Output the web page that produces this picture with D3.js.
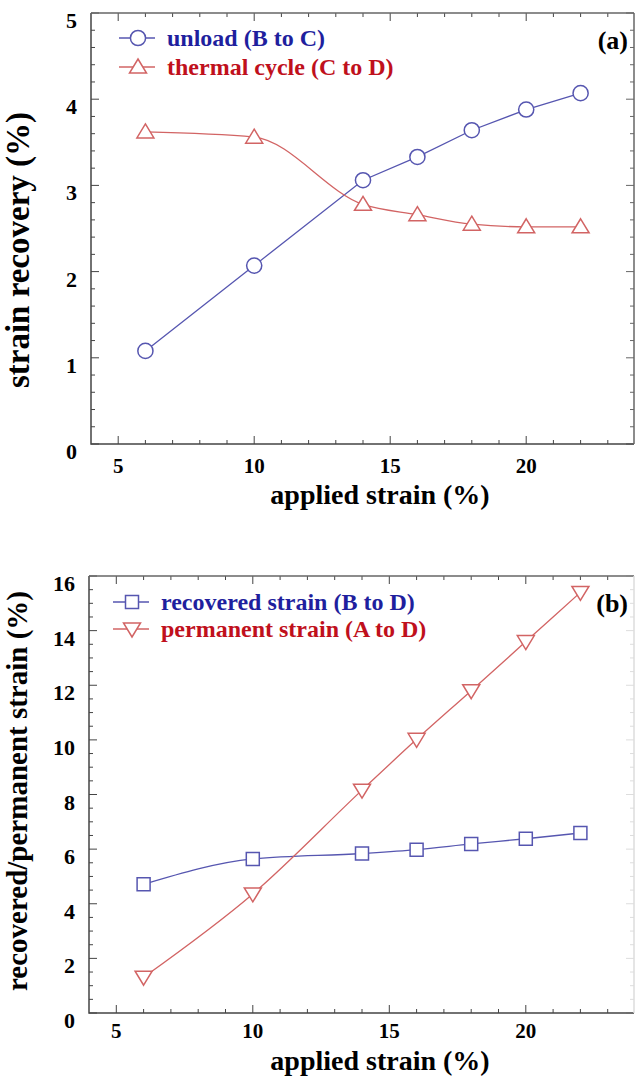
<!DOCTYPE html>
<html>
<head>
<meta charset="utf-8">
<script src="https://cdn.jsdelivr.net/npm/d3@7"></script>
<style>
  body { margin: 0; background: #fff; }
  text { font-family: "Liberation Serif", "Times New Roman", serif; font-weight: bold; }
</style>
</head>
<body>
<div id="chart"></div>
<script>
// values
const appliedStrain = [6, 10, 14, 16, 18, 20, 22];
const unloadRecovery = [1.08, 2.07, 3.06, 3.33, 3.64, 3.88, 4.07];   // B to C
const thermalRecovery = [3.62, 3.56, 2.78, 2.66, 2.55, 2.52, 2.52];  // C to D
const recoveredStrain = [4.71, 5.64, 5.84, 5.98, 6.19, 6.38, 6.59];  // B to D
const permanentStrain = [1.31, 4.36, 8.16, 10.02, 11.8, 13.6, 15.4]; // A to D
const xTickLabels = [5, 10, 15, 20];
const yTickLabelsA = [0, 1, 2, 3, 4, 5];
const yTickLabelsB = [0, 2, 4, 6, 8, 10, 12, 14, 16];

const width = 635, height = 1081;
const blueText = "#1f1f9e", redText = "#c0101c";
const blueLine = "#5656b0", redLine = "#d26464";

const svg = d3.select("#chart").append("svg")
  .attr("width", width).attr("height", height);

function panel(opt) {
  const x = d3.scaleLinear().domain([4, 24]).range([opt.left, 635]);
  const y = d3.scaleLinear().domain([0, opt.yMax]).range([opt.bottom, opt.top]);
  const g = svg.append("g");

  // minor/major ticks, drawn inward on all sides
  const xMinor = d3.range(5, 24, 1);
  const yMinor = d3.range(0, opt.yMax + 1e-9, opt.yMinorStep);
  g.selectAll(".xt").data(xMinor).join("line")
    .attr("x1", d => x(d)).attr("x2", d => x(d))
    .attr("y1", opt.bottom).attr("y2", d => opt.bottom - (d % 5 === 0 ? 8 : 4))
    .attr("stroke", "#444").attr("stroke-width", 1);
  g.selectAll(".xtt").data(xMinor).join("line")
    .attr("x1", d => x(d)).attr("x2", d => x(d))
    .attr("y1", opt.top).attr("y2", d => opt.top + (d % 5 === 0 ? 8 : 4))
    .attr("stroke", "#444").attr("stroke-width", 1);
  const isMajorY = d => Math.abs(d / opt.yMajorStep - Math.round(d / opt.yMajorStep)) < 1e-6;
  g.selectAll(".yt").data(yMinor).join("line")
    .attr("y1", d => y(d)).attr("y2", d => y(d))
    .attr("x1", opt.left).attr("x2", d => opt.left + (isMajorY(d) ? 8 : 4))
    .attr("stroke", "#444").attr("stroke-width", 1);
  g.selectAll(".ytr").data(yMinor).join("line")
    .attr("y1", d => y(d)).attr("y2", d => y(d))
    .attr("x1", 634).attr("x2", d => 634 - (isMajorY(d) ? 8 : 4))
    .attr("stroke", opt.rightColor).attr("stroke-width", 1);

  // frame
  g.append("path")
    .attr("d", `M${opt.left},${opt.top}V${opt.bottom}H634`)
    .attr("fill", "none").attr("stroke", "#444").attr("stroke-width", 1.5);
  g.append("line")
    .attr("x1", opt.left).attr("x2", 634).attr("y1", opt.top).attr("y2", opt.top)
    .attr("stroke", "#666").attr("stroke-width", 1.5);
  g.append("line")
    .attr("x1", 634).attr("x2", 634).attr("y1", opt.top).attr("y2", opt.bottom)
    .attr("stroke", opt.rightColor).attr("stroke-width", 1.5);

  // tick labels
  g.selectAll(".xl").data(xTickLabels).join("text")
    .attr("x", d => x(d)).attr("y", opt.bottom + opt.xLabelDy)
    .attr("text-anchor", "middle").attr("font-size", 21).text(d => d);
  g.selectAll(".yl").data(opt.yLabels).join("text")
    .attr("x", opt.left - 14).attr("y", d => y(d) + 15)
    .attr("text-anchor", "end").attr("font-size", 22).text(d => d);

  // axis titles
  g.append("text")
    .attr("x", 380).attr("y", opt.bottom + opt.titleDy)
    .attr("text-anchor", "middle").attr("font-size", 28)
    .text("applied strain (%)");
  g.append("text")
    .attr("transform", `translate(${opt.yTitleX},${opt.yTitleMid}) rotate(-90)`)
    .attr("text-anchor", "middle").attr("font-size", opt.yTitleSize)
    .text(opt.yTitle);

  // panel tag
  g.append("text")
    .attr("x", 628).attr("y", opt.top + 36)
    .attr("text-anchor", "end").attr("font-size", 26).text(opt.tag);

  return { x, y, g };
}

function series(p, values, color, curve, marker) {
  const pts = appliedStrain.map((s, i) => [s, values[i]]);
  const line = d3.line().x(d => p.x(d[0])).y(d => p.y(d[1])).curve(curve);
  p.g.append("path").datum(pts)
    .attr("d", line).attr("fill", "none")
    .attr("stroke", color).attr("stroke-width", 1.3);
  p.g.selectAll(null).data(pts).join("path")
    .attr("transform", d => `translate(${p.x(d[0])},${p.y(d[1])})`)
    .attr("d", marker)
    .attr("fill", "#fff").attr("stroke", color).attr("stroke-width", 1.5);
}

const circleMark = d3.symbol(d3.symbolCircle, 180)();
const squareMark = "M-6.5,-6.5H6.5V6.5H-6.5Z";
const triUp = "M0,-8L8.5,6H-8.5Z";
const triDown = "M0,8L8.5,-6H-8.5Z";

function legendItem(p, lx, ly, marker, color, textColor, label) {
  p.g.append("line").attr("x1", lx - 19).attr("x2", lx + 17)
    .attr("y1", ly).attr("y2", ly).attr("stroke", color).attr("stroke-width", 1.3);
  p.g.append("path").attr("transform", `translate(${lx},${ly})`).attr("d", marker)
    .attr("fill", "#fff").attr("stroke", color).attr("stroke-width", 1.5);
  p.g.append("text").attr("x", lx + 29).attr("y", ly + 8)
    .attr("font-size", 24).attr("fill", textColor).text(label);
}

// panel (a)
const pa = panel({
  left: 91, top: 13, bottom: 444, yMax: 5, yMinorStep: 0.2, yMajorStep: 1,
  yLabels: yTickLabelsA, xLabelDy: 29, titleDy: 60, tag: "(a)",
  yTitle: "strain recovery (%)", yTitleX: 29, yTitleMid: 250, yTitleSize: 33, rightColor: "#666"
});
series(pa, unloadRecovery, blueLine, d3.curveLinear, circleMark);
series(pa, thermalRecovery, redLine, d3.curveMonotoneX, triUp);
legendItem(pa, 138, 38, circleMark, blueLine, blueText, "unload (B to C)");
legendItem(pa, 138, 67, triUp, redLine, redText, "thermal cycle (C to D)");

// panel (b)
const pb = panel({
  left: 89, top: 576, bottom: 1013, yMax: 16, yMinorStep: 0.5, yMajorStep: 2,
  yLabels: yTickLabelsB, xLabelDy: 25, titleDy: 57, tag: "(b)",
  yTitle: "recovered/permanent strain  (%)", yTitleX: 27, yTitleMid: 791, yTitleSize: 29, rightColor: "#ddd"
});
series(pb, recoveredStrain, blueLine, d3.curveMonotoneX, squareMark);
series(pb, permanentStrain, redLine, d3.curveMonotoneX, triDown);
legendItem(pb, 132, 602, squareMark, blueLine, blueText, "recovered strain (B to D)");
legendItem(pb, 132, 629, triDown, redLine, redText, "permanent strain (A to D)");
</script>
</body>
</html>
